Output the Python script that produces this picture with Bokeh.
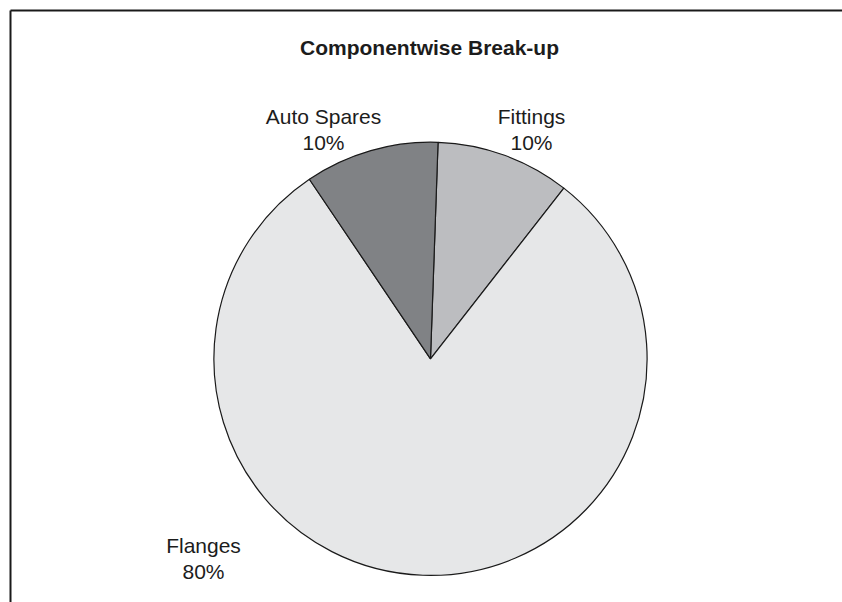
import math
from bokeh.plotting import figure
from bokeh.models import Range1d, ColumnDataSource
from bokeh.core.properties import value
from bokeh.embed import file_html
from bokeh.resources import INLINE

# ---- data ----
categories = ["Fittings", "Flanges", "Auto Spares"]
shares = [10, 80, 10]
colors = ["#bcbdc0", "#e6e7e8", "#808285"]

# ---- layout (pixels, top-left origin) ----
W, H = 842, 602
CX, CY, R = 430, 358.3, 216.6
START_DEG = 88.0
label_pos = {"Fittings": (531, 116), "Flanges": (203, 545), "Auto Spares": (323, 116)}
LINE_GAP = 26
FONT = "Liberation Sans"

def fy(y):
    return H - y

total = float(sum(shares))
starts, ends = [], []
a = math.radians(START_DEG)
for v in shares:
    sweep = 2 * math.pi * v / total
    starts.append(a)
    ends.append(a - sweep)
    a -= sweep

p = figure(width=W, height=H, x_range=Range1d(0, W), y_range=Range1d(0, H),
           output_backend="svg", toolbar_location=None, min_border=0)
p.axis.visible = False
p.grid.visible = False
p.outline_line_color = None
p.background_fill_color = "white"
p.border_fill_color = "white"

src = ColumnDataSource(dict(cat=categories, v=shares, color=colors,
                            start=starts, end=ends))
p.wedge(x=CX, y=fy(CY), radius=R, start_angle="start", end_angle="end",
        direction="clock", fill_color="color", line_color="#1a1a1a",
        line_width=1.2, source=src)

# frame lines (top and left)
p.segment(x0=[10, 10], y0=[fy(10), fy(10)], x1=[W, 10], y1=[fy(10), 0],
          line_color="#1a1a1a", line_width=2)

# title
p.text(x=[429], y=[fy(47)], text=["Componentwise Break-up"],
       text_font=value(FONT), text_font_style="bold", text_font_size="21px",
       text_align="center", text_baseline="alphabetic", text_color="#1c1c1c")

# labels
lx, ly, lt = [], [], []
for c, v in zip(categories, shares):
    x, y = label_pos[c]
    lx += [x, x]
    ly += [fy(y), fy(y + LINE_GAP)]
    lt += [c, f"{v / total * 100:.0f}%"]
p.text(x=lx, y=ly, text=lt, text_font=value(FONT), text_font_size="21px",
       text_align="center", text_baseline="alphabetic", text_color="#1c1c1c")

open("out.html", "w").write(file_html(p, INLINE))
